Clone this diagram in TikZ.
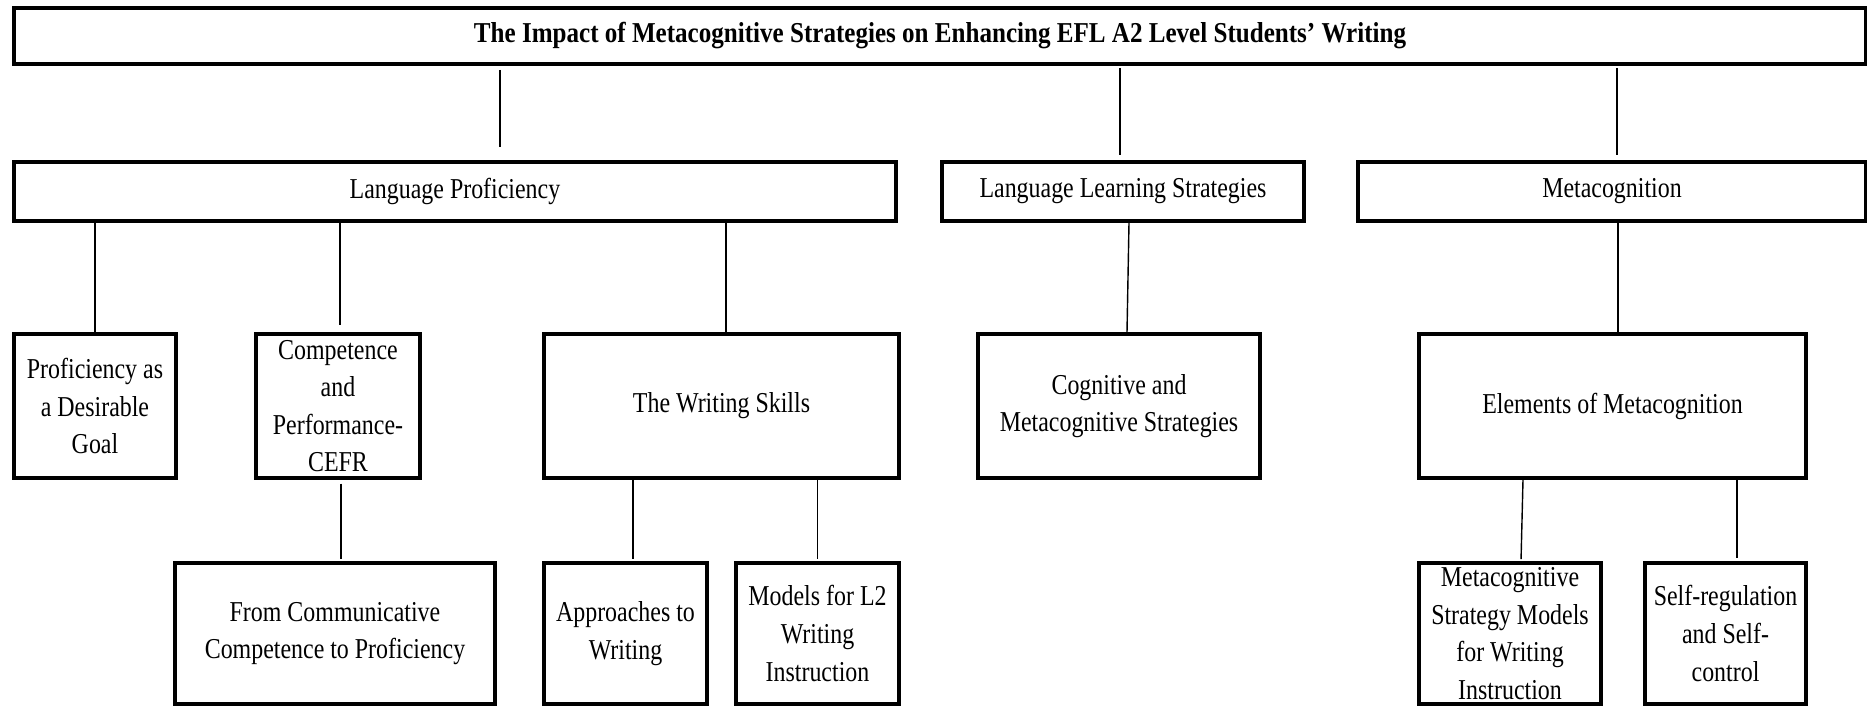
\documentclass[tikz,border=0pt]{standalone}
\usepackage{fontspec}
\setmainfont{Liberation Serif}[FakeStretch=0.83]
\newfontfamily\mctitlefont{Liberation Serif}[FakeStretch=0.87]
\usepackage{tikz}
\tikzset{
  mcbox/.style={draw=black,line width=1pt,fill=white,inner sep=0pt,
                align=center,font=\fontsize{8.2}{10.7}\selectfont},
  mctitle/.style={mcbox,font=\mctitlefont\fontsize{8.2}{10.7}\bfseries\selectfont},
  mctop/.style={mcbox,minimum height=0.59cm},
  mcmid/.style={mcbox,minimum height=1.44cm},
  mcleaf/.style={mcbox,minimum height=1.41cm},
  mclink/.style={line width=0.4pt,black}
}

\begin{document}
\begin{tikzpicture}[x=1cm,y=1cm]
    \useasboundingbox (0,0) rectangle (18.67,-7.06);

    % title
    \node[mctitle,minimum width=18.52cm,minimum height=0.56cm] (title)
      at (9.40,-0.36)
      {The Impact of Metacognitive Strategies on Enhancing EFL A2 Level Students’ Writing};

    % chapters
    \node[mctop,minimum width=8.82cm] (lp) at (4.55,-1.915)
      {Language Proficiency};
    \node[mctop,minimum width=3.62cm] (lls) at (11.23,-1.915)
      {Language Learning Strategies};
    \node[mctop,minimum width=5.08cm] (meta) at (16.12,-1.915)
      {Metacognition};

    % sections
    \node[mcmid,minimum width=1.62cm] (goal) at (0.95,-4.06)
      {Proficiency as\\a Desirable\\Goal};
    \node[mcmid,minimum width=1.64cm] (cefr) at (3.38,-4.06)
      {Competence\\and\\Performance-\\CEFR};
    \node[mcmid,minimum width=3.55cm] (skills) at (7.215,-4.06)
      {The Writing Skills};
    \node[mcmid,minimum width=2.82cm] (cogn) at (11.19,-4.06)
      {Cognitive and\\Metacognitive Strategies};
    \node[mcmid,minimum width=3.87cm] (elems) at (16.125,-4.06)
      {Elements of Metacognition};

    % subsections
    \node[mcleaf,minimum width=3.20cm] (commun) at (3.35,-6.335)
      {From Communicative\\Competence to Proficiency};
    \node[mcleaf,minimum width=1.63cm] (appr) at (6.255,-6.335)
      {Approaches to\\Writing};
    \node[mcleaf,minimum width=1.63cm] (models) at (8.175,-6.335)
      {Models for L2\\Writing\\Instruction};
    \node[mcleaf,minimum width=1.82cm] (mswi) at (15.10,-6.335)
      {Metacognitive\\Strategy Models\\for Writing\\Instruction};
    \node[mcleaf,minimum width=1.61cm] (selfreg) at (17.255,-6.335)
      {Self-regulation\\and Self-\\control};

    % title -> chapters
    \draw[mclink,shorten <=1.2pt,shorten >=3.7pt]
      ([xshift=4.5mm]lp.north |- title.south) -- ([xshift=4.5mm]lp.north);
    \draw[mclink,shorten <=0.6pt,shorten >=1.4pt]
      ([xshift=-0.3mm]lls.north |- title.south) -- ([xshift=-0.3mm]lls.north);
    \draw[mclink,shorten <=0.6pt,shorten >=1.4pt]
      ([xshift=0.5mm]meta.north |- title.south) -- ([xshift=0.5mm]meta.north);

    % chapters -> sections
    \draw[mclink] (goal.north |- lp.south) -- (goal.north);
    \draw[mclink,shorten >=2pt]
      ([xshift=0.2mm]cefr.north |- lp.south) -- ([xshift=0.2mm]cefr.north);
    \draw[mclink]
      ([xshift=0.45mm]skills.north |- lp.south) -- ([xshift=0.45mm]skills.north);
    \draw[mclink]
      ([xshift=1.0mm]cogn.north |- lls.south) -- ([xshift=0.8mm]cogn.north);
    \draw[mclink]
      ([xshift=0.55mm]elems.north |- meta.south) -- ([xshift=0.55mm]elems.north);

    % sections -> subsections
    \draw[mclink,shorten <=1.1pt,shorten >=0.6pt]
      ([xshift=0.6mm]commun.north |- cefr.south) -- ([xshift=0.6mm]commun.north);
    \draw[mclink,shorten >=0.6pt]
      ([xshift=0.75mm]appr.north |- skills.south) -- ([xshift=0.75mm]appr.north);
    \draw[mclink,shorten >=0.6pt]
      (models.north |- skills.south) -- (models.north);
    \draw[mclink,shorten >=0.6pt]
      ([xshift=1.3mm]mswi.north |- elems.south) -- ([xshift=1.1mm]mswi.north);
    \draw[mclink,shorten >=0.9pt]
      ([xshift=1.15mm]selfreg.north |- elems.south) -- ([xshift=1.15mm]selfreg.north);
\end{tikzpicture}
\end{document}
